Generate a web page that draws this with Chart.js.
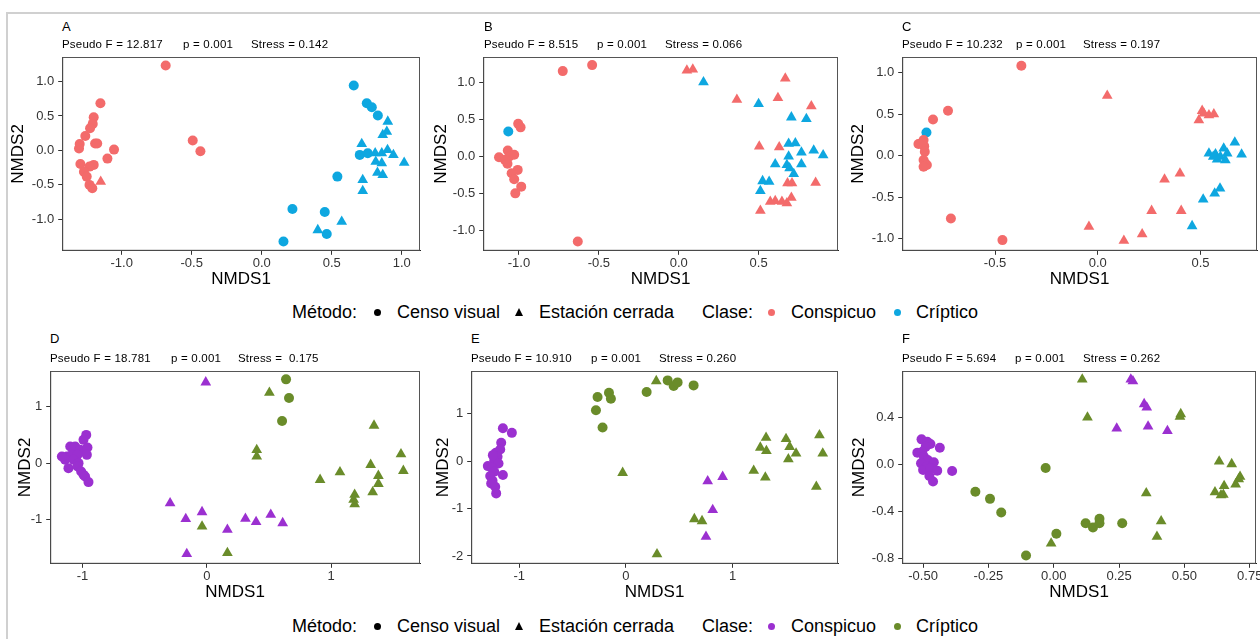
<!DOCTYPE html>
<html lang="es">
<head>
<meta charset="UTF-8">
<title>NMDS - Conspicuo vs Críptico</title>
<script src="https://cdn.jsdelivr.net/npm/chart.js"></script>
<style>
    * { margin: 0; padding: 0; box-sizing: border-box; }
    body {
        width: 1260px; height: 639px; overflow: hidden; position: relative;
        background: #fff; font-family: Arial, "Liberation Sans", sans-serif; color: #000;
    }
    .frame {
        position: absolute; left: 6px; top: 12px; width: 1300px; height: 700px;
        border-top: 2px solid #d0d0d0; border-left: 2px solid #d0d0d0;
    }
    canvas { position: absolute; }
    .tag { position: absolute; font-size: 13px; line-height: 14px; z-index: 2; }
    .stat { position: absolute; font-size: 11.5px; letter-spacing: 0.2px; line-height: 12px; white-space: pre; z-index: 2; }
    .lg { position: absolute; font-size: 18px; line-height: 20px; white-space: pre; }
    .dot { position: absolute; width: 7px; height: 7px; border-radius: 50%; }
    .tri { position: absolute; width: 0; height: 0; border-left: 4.5px solid transparent;
           border-right: 4.5px solid transparent; border-bottom: 8px solid #000; }
</style>
</head>
<body>
<div class="frame"></div>

<!-- panel headers -->
<div class="tag" style="left:62px;top:20px">A</div>
<div class="stat" style="left:62px;top:38px">Pseudo F = 12.817</div>
<div class="stat" style="left:183px;top:38px">p = 0.001</div>
<div class="stat" style="left:251px;top:38px">Stress = 0.142</div>

<div class="tag" style="left:484px;top:20px">B</div>
<div class="stat" style="left:484px;top:38px">Pseudo F = 8.515</div>
<div class="stat" style="left:597px;top:38px">p = 0.001</div>
<div class="stat" style="left:665px;top:38px">Stress = 0.066</div>

<div class="tag" style="left:902px;top:20px">C</div>
<div class="stat" style="left:902px;top:38px">Pseudo F = 10.232</div>
<div class="stat" style="left:1016px;top:38px">p = 0.001</div>
<div class="stat" style="left:1083px;top:38px">Stress = 0.197</div>

<div class="tag" style="left:50px;top:332px">D</div>
<div class="stat" style="left:50px;top:352px">Pseudo F = 18.781</div>
<div class="stat" style="left:171px;top:352px">p = 0.001</div>
<div class="stat" style="left:238px;top:352px">Stress =  0.175</div>

<div class="tag" style="left:471px;top:332px">E</div>
<div class="stat" style="left:471px;top:352px">Pseudo F = 10.910</div>
<div class="stat" style="left:591px;top:352px">p = 0.001</div>
<div class="stat" style="left:659px;top:352px">Stress = 0.260</div>

<div class="tag" style="left:902px;top:332px">F</div>
<div class="stat" style="left:902px;top:352px">Pseudo F = 5.694</div>
<div class="stat" style="left:1015px;top:352px">p = 0.001</div>
<div class="stat" style="left:1083px;top:352px">Stress = 0.262</div>

<!-- legends -->
<div id="legendTop"></div>
<div id="legendBottom"></div>

<script>
    // ---------- data ----------
    const methods = ['Censo visual', 'Estación cerrada'];
    const classes = ['Conspicuo', 'Críptico'];

    // Panel A
    const aConspCenso = [[-0.686,1.232],[-1.152,0.685],[-1.2,0.482],[-1.207,0.385],[-1.226,0.322],[-1.26,0.21],
        [-1.3,0.094],[-1.305,0.027],[-1.19,0.10],[-1.175,0.10],[-1.055,0.012],[-1.102,-0.119],[-1.295,-0.196],
        [-1.2,-0.21],[-1.23,-0.235],[-1.27,-0.31],[-1.25,-0.38],[-1.23,-0.50],[-1.21,-0.55],[-0.493,0.143],[-0.438,-0.012]];
    const aConspEst = [[-1.15,-0.453]];
    const aCripCenso = [[0.657,0.942],[0.75,0.685],[0.786,0.627],[0.829,0.506],[0.70,-0.065],[0.757,-0.041],
        [0.54,-0.38],[0.219,-0.85],[0.45,-0.893],[0.464,-1.213],[0.155,-1.32]];
    const aCripEst = [[0.9,0.419],[0.893,0.273],[0.864,0.225],[0.714,0.094],[0.81,-0.041],[0.857,-0.041],
        [0.898,0.007],[0.94,-0.065],[1.017,-0.177],[0.814,-0.162],[0.857,-0.186],[0.826,-0.322],[0.864,-0.356],
        [0.721,-0.429],[0.721,-0.588],[0.571,-1.034],[0.40,-1.155]];

    // Panel B
    const bConspCenso = [[-0.542,1.24],[-0.726,1.159],[-1.005,0.447],[-0.99,0.397],[-1.125,-0.007],[-1.07,0.084],
        [-1.06,0.002],[-1.088,-0.043],[-1.072,-0.097],[-1.03,0.025],[-1.008,-0.179],[-1.046,-0.224],[-1.03,-0.306],
        [-0.986,-0.406],[-1.023,-0.497],[-0.632,-1.15]];
    const bConspEst = [[0.051,1.167],[0.088,1.181],[0.364,0.773],[0.621,0.796],[0.667,1.06],[0.83,0.683],
        [0.504,0.138],[0.629,0.129],[0.681,-0.36],[0.709,-0.36],[0.857,-0.351],[0.573,-0.61],[0.604,-0.60],
        [0.646,-0.61],[0.677,-0.63],[0.705,-0.555],[0.511,-0.732]];
    const bCripCenso = [[-1.067,0.342]];
    const bCripEst = [[0.155,1.009],[0.50,0.714],[0.705,0.533],[0.799,0.51],[0.688,0.175],[0.73,0.184],
        [0.768,0.057],[0.845,0.084],[0.904,0.020],[0.604,-0.102],[0.688,0.002],[0.677,-0.111],[0.694,-0.156],
        [0.768,-0.102],[0.72,-0.233],[0.525,-0.33],[0.566,-0.338],[0.511,-0.465]];

    // Panel C
    const cConspCenso = [[-0.372,1.084],[-0.729,0.542],[-0.802,0.438],[-0.861,0.149],[-0.848,0.189],[-0.845,0.116],
        [-0.842,0.048],[-0.848,-0.052],[-0.84,-0.092],[-0.832,-0.112],[-0.848,-0.133],[-0.873,0.141],
        [-0.715,-0.755],[-0.464,-1.016]];
    const cConspEst = [[0.046,0.723],[0.492,0.43],[0.516,0.51],[0.541,0.49],[0.565,0.50],[0.508,0.542],
        [0.40,-0.213],[0.325,-0.285],[0.262,-0.663],[0.406,-0.663],[-0.043,-0.855],[0.216,-0.944],[0.127,-1.024]];
    const cCripCenso = [[-0.834,0.281]];
    const cCripEst = [[0.667,0.161],[0.70,0.016],[0.541,0.028],[0.573,0.02],[0.613,0.088],[0.597,-0.012],
        [0.63,0.028],[0.581,-0.044],[0.621,-0.052],[0.562,-0.012],[0.595,-0.394],[0.569,-0.454],[0.513,-0.526],
        [0.459,-0.847]];

    // Panel D
    const dConspCenso = [[-0.97,0.5],[-0.992,0.412],[-1.099,0.294],[-1.059,0.294],[-1.019,0.235],[-0.96,0.276],
        [-1.126,0.118],[-1.086,0.147],[-1.04,0.147],[-0.965,0.147],[-1.14,0.059],[-1.072,0.059],[-1.032,0],
        [-1.113,-0.088],[-1.04,-0.059],[-1.011,-0.147],[-0.992,-0.206],[-0.979,-0.235],[-0.952,-0.335],[-1.166,0.118]];
    const dConspEst = [[-0.008,1.43],[-0.295,-0.706],[-0.169,-0.988],[-0.038,-0.865],[0.166,-1.176],[-0.161,-1.606],
        [0.311,-0.982],[0.397,-1.041],[0.515,-0.912],[0.611,-1.059]];
    const dCripCenso = [[0.638,1.482],[0.662,1.153],[0.606,0.747]];
    const dCripEst = [[0.504,1.247],[0.402,0.235],[0.402,0.118],[-0.038,-1.118],[0.166,-1.588],[0.912,-0.294],
        [1.072,-0.159],[1.346,0.665],[1.319,-0.029],[1.381,-0.224],[1.381,-0.365],[1.335,-0.512],[1.19,-0.559],
        [1.182,-0.647],[1.19,-0.724],[1.563,0.159],[1.582,-0.135]];

    // Panel E
    const eConspCenso = [[-1.153,0.69],[-1.069,0.594],[-1.169,0.384],[-1.178,0.243],[-1.219,0.173],[-1.203,0.089],
        [-1.234,0.019],[-1.194,-0.051],[-1.294,-0.107],[-1.256,-0.142],[-1.234,-0.226],[-1.153,-0.296],
        [-1.272,-0.317],[-1.25,-0.415],[-1.263,-0.472],[-1.225,-0.542],[-1.216,-0.682],[-1.247,0.124]];
    const eConspEst = [[0.766,-0.423],[0.906,-0.332],[0.813,-1.032],[0.75,-1.593]];
    const eCripCenso = [[-0.266,1.349],[-0.281,1.069],[-0.159,1.44],[-0.141,1.314],[-0.219,0.706],[0.194,1.454],
        [0.391,1.699],[0.447,1.58],[0.484,1.657],[0.634,1.594]];
    const eCripEst = [[0.284,1.685],[-0.031,-0.248],[0.641,-1.222],[0.713,-1.264],[0.291,-1.964],[1.197,-0.205],
        [1.306,-0.345],[1.259,0.284],[1.316,0.214],[1.313,0.494],[1.5,0.466],[1.534,0.3],[1.594,0.159],
        [1.522,0.04],[1.813,0.545],[1.844,0.159],[1.784,-0.542]];

    // Panel F
    const fConspCenso = [[-0.506,0.216],[-0.484,0.196],[-0.472,0.176],[-0.49,0.154],[-0.522,0.103],[-0.503,0.111],
        [-0.436,0.145],[-0.497,0.069],[-0.482,0.040],[-0.459,0.021],[-0.508,0.012],[-0.487,-0.016],[-0.5,-0.045],
        [-0.472,-0.031],[-0.446,-0.050],[-0.476,-0.095],[-0.462,-0.143],[-0.389,-0.053]];
    const fConspEst = [[0.295,0.726],[0.303,0.711],[0.346,0.516],[0.356,0.488],[0.241,0.309],[0.361,0.325],[0.435,0.288]];
    const fCripCenso = [[-0.031,-0.027],[-0.3,-0.230],[-0.244,-0.290],[-0.201,-0.406],[-0.106,-0.771],[0.01,-0.587],
        [0.122,-0.497],[0.15,-0.533],[0.175,-0.46],[0.175,-0.497],[0.262,-0.497]];
    const fCripEst = [[0.109,0.726],[0.129,0.403],[0.486,0.431],[0.483,0.408],[0.633,0.029],[0.681,0.006],
        [0.713,-0.101],[0.708,-0.123],[0.696,-0.166],[0.652,-0.18],[0.617,-0.233],[0.64,-0.258],[0.649,-0.255],
        [0.354,-0.242],[0.411,-0.48],[0.395,-0.611],[-0.01,-0.668]];

    // tick labels
    const ticksA_x = [-1, -0.5, 0, 0.5, 1],  ticksA_y = [-1, -0.5, 0, 0.5, 1];
    const ticksB_x = [-1, -0.5, 0, 0.5],     ticksB_y = [-1, -0.5, 0, 0.5, 1];
    const ticksC_x = [-0.5, 0, 0.5],         ticksC_y = [-1, -0.5, 0, 0.5, 1];
    const ticksD_x = [-1, 0, 1],             ticksD_y = [-1, 0, 1];
    const ticksE_x = [-1, 0, 1],             ticksE_y = [-2, -1, 0, 1];
    const ticksF_x = [-0.5, -0.25, 0, 0.25, 0.5, 0.75], ticksF_y = [-0.8, -0.4, 0, 0.4];

    // ---------- style / layout ----------
    const redCol = '#F36B6B', blueCol = '#0EA7E0';
    const purpleCol = '#9B30D0', greenCol = '#6A8C2A';

    const panels = [
        { l: 62,  t: 57,  r: 420,  b: 251, yOff: 44, xr: [-1.425, 1.13], yr: [-1.456, 1.355], xt: ticksA_x, yt: ticksA_y, xd: 1, yd: 1,
          data: [aConspCenso, aConspEst, aCripCenso, aCripEst], cols: [redCol, blueCol] },
        { l: 483, t: 57,  r: 838,  b: 251, yOff: 42, xr: [-1.224, 0.997], yr: [-1.275, 1.35], xt: ticksB_x, yt: ticksB_y, xd: 1, yd: 1,
          data: [bConspCenso, bConspEst, bCripCenso, bCripEst], cols: [redCol, blueCol] },
        { l: 902, t: 57,  r: 1257, b: 251, yOff: 44, xr: [-0.952, 0.775], yr: [-1.145, 1.19], xt: ticksC_x, yt: ticksC_y, xd: 1, yd: 1,
          data: [cConspCenso, cConspEst, cCripCenso, cCripEst], cols: [redCol, blueCol] },
        { l: 50,  t: 371, r: 420,  b: 564, yOff: 25, xr: [-1.26, 1.716], yr: [-1.78, 1.63], xt: ticksD_x, yt: ticksD_y, xd: 0, yd: 0,
          data: [dConspCenso, dConspEst, dCripCenso, dCripEst], cols: [purpleCol, greenCol] },
        { l: 471, t: 371, r: 838,  b: 564, yOff: 28, xr: [-1.45, 1.987], yr: [-2.165, 1.897], xt: ticksE_x, yt: ticksE_y, xd: 0, yd: 0,
          data: [eConspCenso, eConspEst, eCripCenso, eCripEst], cols: [purpleCol, greenCol] },
        { l: 902, t: 371, r: 1256, b: 564, yOff: 43, xr: [-0.58, 0.774], yr: [-0.842, 0.797], xt: ticksF_x, yt: ticksF_y, xd: 2, yd: 1,
          data: [fConspCenso, fConspEst, fCripCenso, fCripEst], cols: [purpleCol, greenCol] }
    ];

    const TITLE_SIZE = 17, TITLE_LH = TITLE_SIZE * 1.2;
    const X_TITLE_OFF = 29;
    const PAD_TOP = 16, PAD_RIGHT = 24;

    // draws the grey panel border (top/right) like ggplot's panel.border
    const borderPlugin = {
        id: 'panelBorder',
        afterDraw(chart) {
            const { ctx, chartArea: a } = chart;
            ctx.save();
            ctx.strokeStyle = '#555';
            ctx.lineWidth = 1;
            ctx.strokeRect(a.left + 0.5, a.top + 0.5, a.right - a.left - 1, a.bottom - a.top - 1);
            ctx.restore();
        }
    };

    function axis(range, ticks, dec, title, isX, fixed) {
        return {
            type: 'linear',
            min: range[0],
            max: range[1],
            afterBuildTicks: s => { s.ticks = ticks.map(v => ({ value: v })); },
            afterFit: s => {
                if (isX) s.height = fixed; else s.width = fixed;
            },
            grid: { display: true, drawOnChartArea: false, drawTicks: true, tickLength: 4, color: '#333' },
            border: { display: true, color: '#222', width: 1 },
            ticks: {
                padding: isX ? 1 : 4,
                color: '#333',
                font: { size: 13, family: 'Arial, "Liberation Sans", sans-serif' },
                callback: v => Number(v).toFixed(dec)
            },
            title: {
                display: true, text: title, color: '#000', padding: 0,
                font: { size: TITLE_SIZE, family: 'Arial, "Liberation Sans", sans-serif', lineHeight: 1.2 }
            }
        };
    }

    panels.forEach(p => {
        const yW = p.yOff + TITLE_LH / 2;
        const xH = X_TITLE_OFF + TITLE_LH / 2;
        const canvas = document.createElement('canvas');
        const w = Math.round(yW + (p.r - p.l) + PAD_RIGHT);
        const h = Math.round(PAD_TOP + (p.b - p.t) + xH);
        canvas.width = w;
        canvas.height = h;
        canvas.style.width = w + 'px';
        canvas.style.height = h + 'px';
        canvas.style.left = (p.l - yW) + 'px';
        canvas.style.top = (p.t - PAD_TOP) + 'px';
        document.body.appendChild(canvas);

        const mk = (pts, col, style, r) => ({
            data: pts.map(d => ({ x: d[0], y: d[1] })),
            pointStyle: style,
            pointRadius: r,
            backgroundColor: col,
            borderColor: col,
            borderWidth: 0
        });

        new Chart(canvas.getContext('2d'), {
            type: 'scatter',
            data: {
                datasets: [
                    mk(p.data[0], p.cols[0], 'circle', 5),
                    mk(p.data[1], p.cols[0], 'triangle', 6.2),
                    mk(p.data[2], p.cols[1], 'circle', 5),
                    mk(p.data[3], p.cols[1], 'triangle', 6.2)
                ]
            },
            options: {
                responsive: false,
                animation: false,
                devicePixelRatio: 1,
                layout: { padding: { top: PAD_TOP, right: PAD_RIGHT, left: 0, bottom: 0 } },
                plugins: { legend: { display: false }, tooltip: { enabled: false } },
                scales: {
                    x: axis(p.xr, p.xt, p.xd, 'NMDS1', true, xH),
                    y: axis(p.yr, p.yt, p.yd, 'NMDS2', false, yW)
                }
            },
            plugins: [borderPlugin]
        });
    });

    // ---------- legends ----------
    function buildLegend(el, y, cols) {
        const parts = [
            ['t', 'Método:', 292], ['d', '#000', 377], ['t', methods[0], 397],
            ['tri', '#000', 519], ['t', methods[1], 539],
            ['t', 'Clase:', 702], ['d', cols[0], 771], ['t', classes[0], 791],
            ['d', cols[1], 897], ['t', classes[1], 916]
        ];
        parts.forEach(([kind, val, x]) => {
            const s = document.createElement('div');
            if (kind === 't') {
                s.className = 'lg'; s.textContent = val;
                s.style.left = x + 'px'; s.style.top = (y - 10) + 'px';
            } else if (kind === 'd') {
                s.className = 'dot'; s.style.background = val;
                s.style.left = (x - 3.5) + 'px'; s.style.top = (y - 3.5) + 'px';
            } else {
                s.className = 'tri';
                s.style.left = (x - 4.5) + 'px'; s.style.top = (y - 4.5) + 'px';
            }
            el.appendChild(s);
        });
    }
    buildLegend(document.getElementById('legendTop'), 312, [redCol, blueCol]);
    buildLegend(document.getElementById('legendBottom'), 626, [purpleCol, greenCol]);
</script>
</body>
</html>
